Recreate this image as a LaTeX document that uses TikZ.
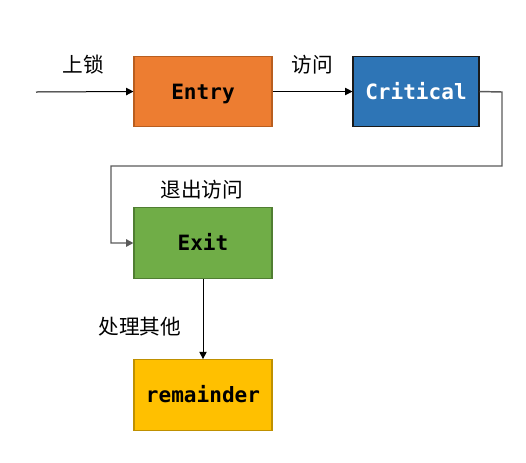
\documentclass[tikz,border=0pt]{standalone}
\usepackage{fontspec}
\newfontfamily\cjk{Noto Sans CJK SC}
\newfontfamily\mono{DejaVu Sans Mono}
\usetikzlibrary{arrows.meta}
\definecolor{entryfill}{HTML}{ED7D31}
\definecolor{entrydraw}{HTML}{B95E1F}
\definecolor{critfill}{HTML}{2E75B6}
\definecolor{critdraw}{HTML}{1A1A1A}
\definecolor{exitfill}{HTML}{70AD47}
\definecolor{exitdraw}{HTML}{507E32}
\definecolor{remfill}{HTML}{FFC000}
\definecolor{remdraw}{HTML}{BF9000}
\definecolor{backline}{HTML}{5A5A5A}
\tikzset{
  box/.style={rectangle, minimum width=103.5pt, minimum height=53pt, inner sep=0pt, line width=0.8pt,
    text height=11.3pt, text depth=0pt,
    font=\mono\bfseries\fontsize{15.8pt}{18pt}\selectfont},
  lab/.style={font=\cjk\fontsize{15.5pt}{18pt}\selectfont, inner sep=0pt},
  conn/.style={line width=0.75pt, -{Triangle[length=5.5pt,width=5.5pt]}},
}
\begin{document}
\begin{tikzpicture}[x=0.75pt,y=-0.75pt]
\useasboundingbox (0,0) rectangle (526,462);
\node[box, fill=entryfill, draw=entrydraw] (entry) at (203,91.5) {Entry};
\node[box, fill=critfill, draw=critdraw, minimum width=94.5pt, text=white] (crit) at (416,91.5) {Critical};
\node[box, fill=exitfill, draw=exitdraw] (exit) at (203,243) {Exit};
\node[box, fill=remfill, draw=remdraw] (rem) at (203,395) {remainder};
\coordinate (start) at (36,92);
\coordinate (b1) at (502,92);
\coordinate (b2) at (502,166);
\coordinate (b3) at (111,166);
\coordinate (b4) at (111,243);
\draw[conn] (start) -- (entry.west);
\draw[conn] (entry.east) -- (crit.west);
\draw[conn, draw=backline, line width=1.1pt] (crit.east) -- (b1) -- (b2) -- (b3) -- (b4) -- (exit.west);
\draw[conn] (exit.south) -- (rem.north);
\node[lab] (l1) at (83,65) {上锁};
\node[lab] (l2) at (312,65) {访问};
\node[lab] (l3) at (202,190) {退出访问};
\node[lab] (l4) at (140,327) {处理其他};
\end{tikzpicture}
\end{document}
